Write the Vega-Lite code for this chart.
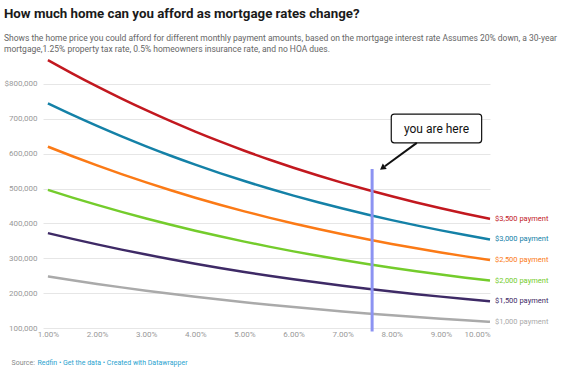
{
  "$schema": "https://vega.github.io/schema/vega-lite/v6.json",
  "width": 447,
  "height": 272,
  "autosize": "none",
  "padding": {"left": 43, "top": 56, "right": 74, "bottom": 39},
  "background": "white",
  "config": {"font": "Roboto", "view": {"stroke": null}},
  "title": {
    "text": "How much home can you afford as mortgage rates change?",
    "subtitle": ["Shows the home price you could afford for different monthly payment amounts, based on the mortgage interest rate  Assumes 20% down, a 30-year", "mortgage,1.25% property tax rate, 0.5% homeowners insurance rate, and no HOA dues."],
    "anchor": "start",
    "frame": "bounds",
    "fontSize": 13.3,
    "fontWeight": "bold",
    "color": "#1a1a1a",
    "subtitleFontSize": 8.5,
    "subtitleColor": "#666666",
    "subtitlePadding": 13,
    "subtitleLineHeight": 11,
    "offset": 2
  },
  "datasets": {
    "curves": [
      {"rate": 1.0, "$1,000 payment": 248040, "$1,500 payment": 372060, "$2,000 payment": 496080, "$2,500 payment": 620100, "$3,000 payment": 744120, "$3,500 payment": 868140},
      {"rate": 1.5, "$1,000 payment": 237010, "$1,500 payment": 355515, "$2,000 payment": 474020, "$2,500 payment": 592525, "$3,000 payment": 711030, "$3,500 payment": 829535},
      {"rate": 2.0, "$1,000 payment": 226480, "$1,500 payment": 339720, "$2,000 payment": 452960, "$2,500 payment": 566200, "$3,000 payment": 679440, "$3,500 payment": 792680},
      {"rate": 2.5, "$1,000 payment": 216480, "$1,500 payment": 324720, "$2,000 payment": 432960, "$2,500 payment": 541200, "$3,000 payment": 649440, "$3,500 payment": 757680},
      {"rate": 3.0, "$1,000 payment": 206990, "$1,500 payment": 310485, "$2,000 payment": 413980, "$2,500 payment": 517475, "$3,000 payment": 620970, "$3,500 payment": 724465},
      {"rate": 3.5, "$1,000 payment": 197990, "$1,500 payment": 296985, "$2,000 payment": 395980, "$2,500 payment": 494975, "$3,000 payment": 593970, "$3,500 payment": 692965},
      {"rate": 4.0, "$1,000 payment": 189480, "$1,500 payment": 284220, "$2,000 payment": 378960, "$2,500 payment": 473700, "$3,000 payment": 568440, "$3,500 payment": 663180},
      {"rate": 4.5, "$1,000 payment": 181430, "$1,500 payment": 272145, "$2,000 payment": 362860, "$2,500 payment": 453575, "$3,000 payment": 544290, "$3,500 payment": 635005},
      {"rate": 5.0, "$1,000 payment": 173820, "$1,500 payment": 260730, "$2,000 payment": 347640, "$2,500 payment": 434550, "$3,000 payment": 521460, "$3,500 payment": 608370},
      {"rate": 5.5, "$1,000 payment": 166650, "$1,500 payment": 249975, "$2,000 payment": 333300, "$2,500 payment": 416625, "$3,000 payment": 499950, "$3,500 payment": 583275},
      {"rate": 6.0, "$1,000 payment": 159880, "$1,500 payment": 239820, "$2,000 payment": 319760, "$2,500 payment": 399700, "$3,000 payment": 479640, "$3,500 payment": 559580},
      {"rate": 6.5, "$1,000 payment": 153490, "$1,500 payment": 230235, "$2,000 payment": 306980, "$2,500 payment": 383725, "$3,000 payment": 460470, "$3,500 payment": 537215},
      {"rate": 7.0, "$1,000 payment": 147480, "$1,500 payment": 221220, "$2,000 payment": 294960, "$2,500 payment": 368700, "$3,000 payment": 442440, "$3,500 payment": 516180},
      {"rate": 7.5, "$1,000 payment": 141800, "$1,500 payment": 212700, "$2,000 payment": 283600, "$2,500 payment": 354500, "$3,000 payment": 425400, "$3,500 payment": 496300},
      {"rate": 8.0, "$1,000 payment": 136460, "$1,500 payment": 204690, "$2,000 payment": 272920, "$2,500 payment": 341150, "$3,000 payment": 409380, "$3,500 payment": 477610},
      {"rate": 8.5, "$1,000 payment": 131410, "$1,500 payment": 197115, "$2,000 payment": 262820, "$2,500 payment": 328525, "$3,000 payment": 394230, "$3,500 payment": 459935},
      {"rate": 9.0, "$1,000 payment": 126660, "$1,500 payment": 189990, "$2,000 payment": 253320, "$2,500 payment": 316650, "$3,000 payment": 379980, "$3,500 payment": 443310},
      {"rate": 9.5, "$1,000 payment": 122170, "$1,500 payment": 183255, "$2,000 payment": 244340, "$2,500 payment": 305425, "$3,000 payment": 366510, "$3,500 payment": 427595},
      {"rate": 10.0, "$1,000 payment": 117940, "$1,500 payment": 176910, "$2,000 payment": 235880, "$2,500 payment": 294850, "$3,000 payment": 353820, "$3,500 payment": 412790}
    ],
    "marker": [{"rate": 7.6, "price": 556000, "price2": 90000}],
    "box": [{"rate": 7.99, "rate2": 9.83, "price": 713500, "price2": 631000, "label": "you are here", "mid": 8.91, "midprice": 672000}],
    "arrow": [{"rate": 8.51, "price": 631000, "rate2": 7.86, "price2": 564000, "tip": 7.81, "tipprice": 559000}]
  },
  "layer": [
    {
      "data": {"name": "curves"},
      "transform": [{"fold": ["$1,000 payment", "$1,500 payment", "$2,000 payment", "$2,500 payment", "$3,000 payment", "$3,500 payment"], "as": ["series", "price"]}],
      "mark": {"type": "line", "strokeWidth": 2.5, "interpolate": "monotone"},
      "encoding": {
        "x": {
          "field": "rate", "type": "quantitative",
          "scale": {"domain": [0.9, 10], "nice": false, "zero": false},
          "axis": {
            "values": [1, 2, 3, 4, 5, 6, 7, 8, 9, 10],
            "tickCount": 12,
            "labelExpr": "format(datum.value, '.2f') + '%'",
            "labelOverlap": false,
            "grid": false, "ticks": false, "domain": false,
            "labelColor": "#999999", "labelFontSize": 8, "labelPadding": 2,
            "title": "Redfin • Get the data • Created with Datawrapper",
            "titleColor": "#2aa3cf", "titleFontSize": 7, "titleFontWeight": "normal",
            "titleAlign": "left", "titleBaseline": "middle", "titleAnchor": "start",
            "titleX": -6, "titleY": 34
          }
        },
        "y": {
          "field": "price", "type": "quantitative",
          "scale": {"domain": [100000, 880000], "nice": false, "zero": false},
          "axis": {
            "values": [100000, 200000, 300000, 400000, 500000, 600000, 700000, 800000],
            "tickCount": 10,
            "labelExpr": "datum.value == 800000 ? '$800,000' : format(datum.value, ',')",
            "labelOverlap": false,
            "grid": true, "gridColor": "#e6e6e6", "gridWidth": 1,
            "ticks": false, "domain": false,
            "labelColor": "#999999", "labelFontSize": 8, "labelPadding": 6,
            "title": "Source:",
            "titleColor": "#888888", "titleFontSize": 7, "titleFontWeight": "normal",
            "titleAngle": 0, "titleAlign": "left", "titleBaseline": "middle",
            "titleX": -32, "titleY": 306
          }
        },
        "color": {
          "field": "series", "type": "nominal",
          "scale": {
            "domain": ["$3,500 payment", "$3,000 payment", "$2,500 payment", "$2,000 payment", "$1,500 payment", "$1,000 payment"],
            "range": ["#c2181f", "#1481a7", "#fb7a16", "#74cc2c", "#3e2a66", "#aaaaaa"]
          },
          "legend": null
        }
      }
    },
    {
      "data": {"name": "curves"},
      "transform": [
        {"filter": "datum.rate == 10"},
        {"fold": ["$1,000 payment", "$1,500 payment", "$2,000 payment", "$2,500 payment", "$3,000 payment", "$3,500 payment"], "as": ["series", "price"]}
      ],
      "mark": {"type": "text", "align": "left", "baseline": "middle", "dx": 5, "fontSize": 7.5},
      "encoding": {
        "x": {"field": "rate", "type": "quantitative"},
        "y": {"field": "price", "type": "quantitative"},
        "text": {"field": "series"},
        "color": {
          "field": "series", "type": "nominal",
          "legend": null
        }
      }
    },
    {
      "data": {"name": "marker"},
      "mark": {"type": "rule", "color": "#8c93f2", "strokeWidth": 3},
      "encoding": {
        "x": {"field": "rate", "type": "quantitative"},
        "y": {"field": "price", "type": "quantitative"},
        "y2": {"field": "price2"}
      }
    },
    {
      "data": {"name": "box"},
      "mark": {"type": "rect", "fill": "white", "stroke": "#111111", "strokeWidth": 1.2, "cornerRadius": 3},
      "encoding": {
        "x": {"field": "rate", "type": "quantitative"},
        "x2": {"field": "rate2"},
        "y": {"field": "price", "type": "quantitative"},
        "y2": {"field": "price2"}
      }
    },
    {
      "data": {"name": "box"},
      "mark": {"type": "text", "fontSize": 12, "color": "#111111", "align": "center", "baseline": "middle"},
      "encoding": {
        "x": {"field": "mid", "type": "quantitative"},
        "y": {"field": "midprice", "type": "quantitative"},
        "text": {"field": "label"}
      }
    },
    {
      "data": {"name": "arrow"},
      "mark": {"type": "rule", "color": "#111111", "strokeWidth": 2},
      "encoding": {
        "x": {"field": "rate", "type": "quantitative"},
        "y": {"field": "price", "type": "quantitative"},
        "x2": {"field": "rate2"},
        "y2": {"field": "price2"}
      }
    },
    {
      "data": {"name": "arrow"},
      "mark": {"type": "point", "shape": "triangle-up", "filled": true, "color": "#111111", "size": 45, "angle": 234, "opacity": 1},
      "encoding": {
        "x": {"field": "tip", "type": "quantitative"},
        "y": {"field": "tipprice", "type": "quantitative"}
      }
    }
  ]
}
